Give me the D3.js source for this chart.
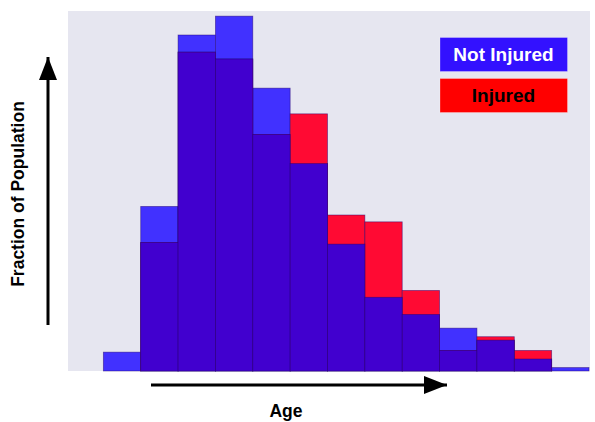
<!DOCTYPE html>
<html>
<head>
<meta charset="utf-8">
<script src="https://cdn.jsdelivr.net/npm/d3@7"></script>
<style>
  html, body { margin: 0; padding: 0; background: #ffffff; }
  svg { display: block; }
  text { font-family: "Liberation Sans", Arial, Helvetica, sans-serif; font-weight: bold; }
</style>
</head>
<body>
<svg id="chart" width="595" height="422"></svg>
<script>
// Age bins (equal width), fraction of each group falling in each bin
const ageBins = [0, 1, 2, 3, 4, 5, 6, 7, 8, 9, 10, 11, 12];
const notInjured = [0.011, 0.096, 0.196, 0.207, 0.165, 0.121, 0.074, 0.043, 0.033, 0.025, 0.018, 0.007, 0.002];
const injured    = [0.000, 0.075, 0.186, 0.182, 0.138, 0.150, 0.091, 0.087, 0.047, 0.012, 0.020, 0.012, 0.000];
const legendLabels = ["Not Injured", "Injured"];

const svg = d3.select("#chart");

const plot = { left: 68, right: 590, top: 11, bottom: 371 };

const x = d3.scaleLinear().domain([-1, 13]).range([66, 589]);
const y = d3.scaleLinear().domain([0, 0.21]).range([plot.bottom, plot.top]);

const colors = {
  blue: "#4131ff",
  red: "#ff0a33",
  overlap: "#4100cf",
  edge: "rgba(35,0,110,0.55)",
  bg: "#e6e6f0"
};

// plot background
svg.append("rect")
  .attr("x", plot.left).attr("y", plot.top)
  .attr("width", plot.right - plot.left).attr("height", plot.bottom - plot.top)
  .attr("fill", colors.bg);

const bars = ageBins.map((b, i) => ({ bin: b, blue: notInjured[i], red: injured[i] }));

function drawLayer(cls, valueFn, fill) {
  svg.append("g").attr("class", cls)
    .selectAll("rect")
    .data(bars.filter(d => valueFn(d) > 0))
    .join("rect")
      .attr("x", d => x(d.bin))
      .attr("width", d => x(d.bin + 1) - x(d.bin))
      .attr("y", d => y(valueFn(d)))
      .attr("height", d => y(0) - y(valueFn(d)))
      .attr("fill", fill)
      .attr("stroke", colors.edge)
      .attr("stroke-width", 0.8);
}

drawLayer("not-injured", d => d.blue, colors.blue);
drawLayer("injured", d => d.red, colors.red);
drawLayer("overlap", d => Math.min(d.blue, d.red), colors.overlap);

// arrow markers for the axes
const defs = svg.append("defs");
defs.append("marker")
  .attr("id", "arrowhead")
  .attr("viewBox", "0 0 23 18")
  .attr("refX", 23).attr("refY", 9)
  .attr("markerUnits", "userSpaceOnUse")
  .attr("markerWidth", 23).attr("markerHeight", 18)
  .attr("orient", "auto")
  .append("path")
    .attr("d", "M0,0 L23,9 L0,18 Z")
    .attr("fill", "#000");

// vertical axis arrow
svg.append("line")
  .attr("x1", 48).attr("y1", 325)
  .attr("x2", 48).attr("y2", 57)
  .attr("stroke", "#000").attr("stroke-width", 3)
  .attr("marker-end", "url(#arrowhead)");

// horizontal axis arrow
svg.append("line")
  .attr("x1", 151).attr("y1", 385)
  .attr("x2", 447).attr("y2", 385)
  .attr("stroke", "#000").attr("stroke-width", 3)
  .attr("marker-end", "url(#arrowhead)");

// axis titles
svg.append("text")
  .attr("transform", "translate(24,194) rotate(-90)")
  .attr("text-anchor", "middle")
  .attr("font-size", 17.5)
  .attr("fill", "#000")
  .text("Fraction of Population");

svg.append("text")
  .attr("x", 286).attr("y", 417)
  .attr("text-anchor", "middle")
  .attr("font-size", 17.5)
  .attr("fill", "#000")
  .text("Age");

// legend
const legend = [
  { label: legendLabels[0], fill: "#3311ff", text: "#ffffff", y: 37.5 },
  { label: legendLabels[1], fill: "#ff0000", text: "#000000", y: 78.5 }
];
const lg = svg.append("g").attr("class", "legend");
legend.forEach(l => {
  lg.append("rect")
    .attr("x", 440).attr("y", l.y)
    .attr("width", 127.5).attr("height", 34)
    .attr("fill", l.fill)
    .attr("stroke", "rgba(255,255,255,0.35)").attr("stroke-width", 0.8);
  lg.append("text")
    .attr("x", 503.5).attr("y", l.y + 23.5)
    .attr("text-anchor", "middle")
    .attr("font-size", 19)
    .attr("fill", l.text)
    .text(l.label);
});
</script>
</body>
</html>
